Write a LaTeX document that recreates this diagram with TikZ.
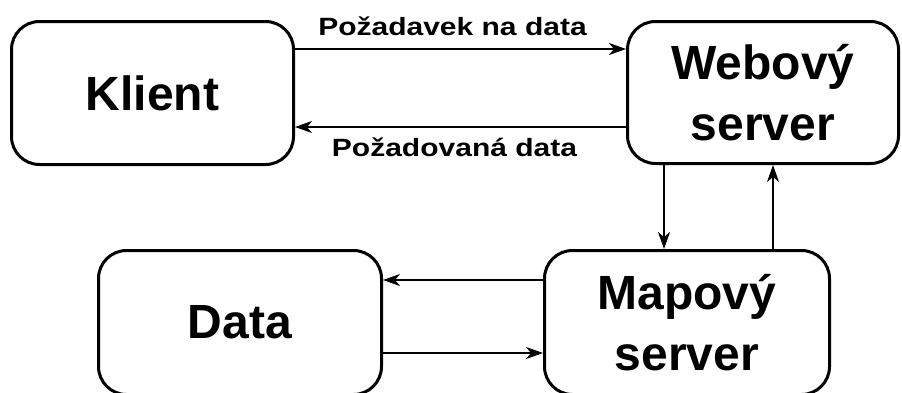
\documentclass[tikz,border=0pt]{standalone}
\usepackage{graphicx}
\usepackage{fontspec}
\setmainfont{Liberation Sans}
\usetikzlibrary{arrows.meta}

\tikzset{
	box/.style={draw, line width=3pt, rounded corners=28pt, inner sep=0pt, align=center,
		font=\fontsize{48}{61}\selectfont\bfseries},
	arr/.style={-{Stealth[length=17pt,width=12pt,inset=5pt]}, line width=1.2pt},
	lbl/.style={font=\fontsize{25}{29}\selectfont\bfseries, inner sep=0pt, anchor=base}
}

\begin{document}
\begin{tikzpicture}[x=1pt,y=-1pt]
	%Page size of the picture
	\useasboundingbox (0,0) rectangle (902,392);

	%Offsets of the connectors from the box centres
	\pgfmathsetmacro{\ta}{44}
	\pgfmathsetmacro{\tb}{-34}
	\pgfmathsetmacro{\va}{-99}
	\pgfmathsetmacro{\vb}{10}
	\pgfmathsetmacro{\ha}{42.5}
	\pgfmathsetmacro{\hb}{-30.5}

	%The four boxes
	\node[box, minimum width=282pt, minimum height=143pt] (klient) at (152.5,93) {Klient};
	\node[box, minimum width=271pt, minimum height=142pt] (web) at (763,92.5) {Webový\\server};
	\node[box, minimum width=283pt, minimum height=144pt] (data) at (240,322.5) {Data};
	\node[box, minimum width=285pt, minimum height=144pt] (map) at (687,322.5) {Mapový\\server};

	%Klient <-> webovy server
	\draw[arr] ([yshift=\ta pt]klient.east) -- ([yshift=\ta pt]klient.east -| web.west)
		node[lbl, midway, yshift=13.5pt, xshift=-8pt] {\scalebox{1.2}[1]{Požadavek na data}};
	\draw[arr] ([yshift=\tb pt]klient.east -| web.west) -- ([yshift=\tb pt]klient.east)
		node[lbl, midway, yshift=-29.5pt, xshift=-6pt] {\scalebox{1.2}[1]{Požadovaná data}};

	%Webovy server <-> mapovy server
	\draw[arr] ([xshift=\va pt]web.south) -- ([xshift=\va pt]web.south |- map.north);
	\draw[arr] ([xshift=\vb pt]web.south |- map.north) -- ([xshift=\vb pt]web.south);

	%Mapovy server <-> data
	\draw[arr] ([yshift=\ha pt]data.east -| map.west) -- ([yshift=\ha pt]data.east);
	\draw[arr] ([yshift=\hb pt]data.east) -- ([yshift=\hb pt]data.east -| map.west);

\end{tikzpicture}
\end{document}
